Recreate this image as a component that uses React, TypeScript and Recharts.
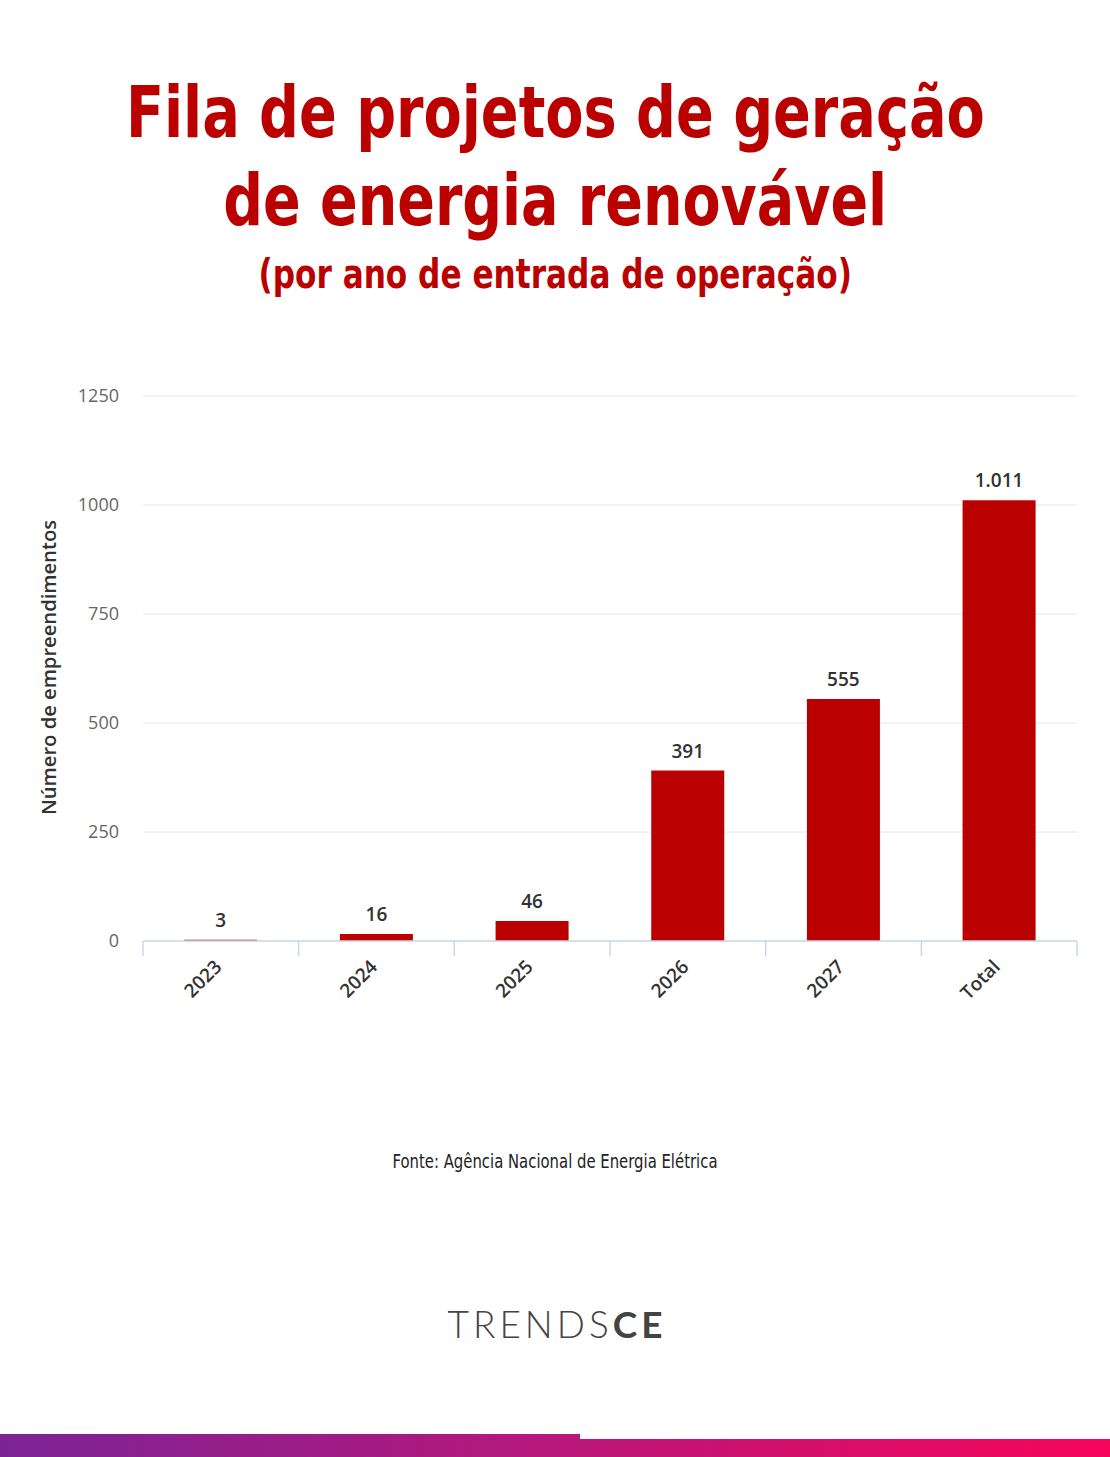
import React from 'react'
import { BarChart, Bar, XAxis, YAxis, CartesianGrid, LabelList } from 'recharts'

// dados: fila de projetos por ano de entrada em operação
const anos = ['2023', '2024', '2025', '2026', '2027', 'Total']
const projetos = [3, 16, 46, 391, 555, 1011]
const yTicks = [0, 250, 500, 750, 1000, 1250]

const data = anos.map((ano, i) => ({ ano, projetos: projetos[i] }))

const RED = '#bb0000'
const AXIS = '#ccd6eb'
const W = 1110
const MARGIN = { top: 26, right: 33, bottom: 0, left: 0 }
const Y_W = 143
const BAND = (W - MARGIN.left - MARGIN.right - Y_W) / anos.length

const fmt = (v: any) => String(v).replace(/\B(?=(\d{3})+(?!\d))/g, '.')

const XTick = (props: any) => {
  const { x, y, payload, index } = props
  const left = x - BAND / 2
  const ax = x + 2
  const ay = y + 27
  return (
    <g>
      <line x1={left} y1={y} x2={left} y2={y + 15} stroke={AXIS} strokeWidth={1.5} />
      {index === anos.length - 1 && (
        <line x1={x + BAND / 2} y1={y} x2={x + BAND / 2} y2={y + 15} stroke={AXIS} strokeWidth={1.5} />
      )}
      <text
        x={ax}
        y={ay}
        transform={`rotate(-45, ${ax}, ${ay})`}
        textAnchor="end"
        fill="#333"
        fontSize={19}
        fontWeight={600}
        fontFamily="'Open Sans', sans-serif"
      >
        {payload.value}
      </text>
    </g>
  )
}

const YLabel = (props: any) => {
  const vb = props.viewBox
  const cy = vb.y + vb.height / 2 - 1
  return (
    <text
      x={56}
      y={cy}
      transform={`rotate(-90, 56, ${cy})`}
      textAnchor="middle"
      fill="#333"
      fontSize={19}
      fontWeight={600}
      textLength={295}
      lengthAdjust="spacingAndGlyphs"
      fontFamily="'Open Sans', sans-serif"
    >
      Número de empreendimentos
    </text>
  )
}

// título em HTML, comprimido na horizontal
const TitleLine = ({ text, top, size, sx }: { text: string; top: number; size: number; sx: number }) => (
  <div style={{ position: 'absolute', left: 0, top, width: W, textAlign: 'center', lineHeight: `${size}px` }}>
    <span
      style={{
        display: 'inline-block',
        whiteSpace: 'nowrap',
        color: RED,
        fontFamily: "'DejaVu Sans Condensed', sans-serif",
        fontWeight: 'bold',
        fontSize: size,
        transform: `scaleX(${sx})`,
        transformOrigin: '50% 50%',
      }}
    >
      {text}
    </span>
  </div>
)

const App = () => {
  return (
    <div style={{ position: 'absolute', left: 0, top: 0, width: W, height: 1457, background: '#fff', overflow: 'hidden' }}>
      <TitleLine text="Fila de projetos de geração" top={76} size={72} sx={0.86} />
      <TitleLine text="de energia renovável" top={164} size={72} sx={0.857} />
      <TitleLine text="(por ano de entrada de operação)" top={254} size={41} sx={0.845} />

      <svg width={W} height={1457} style={{ position: 'absolute', left: 0, top: 0 }}>
        <text
          x={555}
          y={1168}
          textAnchor="middle"
          fill="#222"
          fontSize={19}
          textLength={325}
          lengthAdjust="spacingAndGlyphs"
          fontFamily="'DejaVu Sans Condensed', sans-serif"
        >
          Fonte: Agência Nacional de Energia Elétrica
        </text>
        <text x={557} y={1338} textAnchor="middle" fill="#444" fontSize={37} fontFamily="Lato, sans-serif" letterSpacing={4}>
          <tspan fontWeight={300}>TRENDS</tspan>
          <tspan fontWeight="bold">CE</tspan>
        </text>
      </svg>

      <div style={{ position: 'absolute', left: 0, top: 370 }}>
        <BarChart width={W} height={641} data={data} margin={MARGIN} barCategoryGap="26.5%">
          <CartesianGrid vertical={false} stroke="#e6e6e6" />
          <XAxis
            dataKey="ano"
            height={70}
            stroke={AXIS}
            strokeWidth={1.5}
            tickLine={false}
            tickSize={0}
            tickMargin={0}
            interval={0}
            tick={<XTick />}
          />
          <YAxis
            width={Y_W}
            domain={[0, 1250]}
            ticks={yTicks}
            axisLine={false}
            tickLine={false}
            tickSize={0}
            tickMargin={24}
            tick={{ fill: '#666', fontSize: 18, fontFamily: "'Open Sans', sans-serif" }}
            label={<YLabel />}
          />
          <Bar dataKey="projetos" fill={RED} isAnimationActive={false}>
            <LabelList
              dataKey="projetos"
              position="top"
              offset={13}
              formatter={fmt}
              fill="#333"
              fontSize={19}
              fontWeight={600}
              fontFamily="'Open Sans', sans-serif"
            />
          </Bar>
        </BarChart>
      </div>

      <div
        style={{
          position: 'absolute',
          left: 0,
          top: 1434,
          width: W,
          height: 23,
          background: 'linear-gradient(90deg, #7b2496 0%, #b8177a 50%, #f7055a 100%)',
        }}
      />
      <div style={{ position: 'absolute', left: 580, top: 1434, width: W - 580, height: 5, background: '#fff' }} />
    </div>
  )
}

export default App
